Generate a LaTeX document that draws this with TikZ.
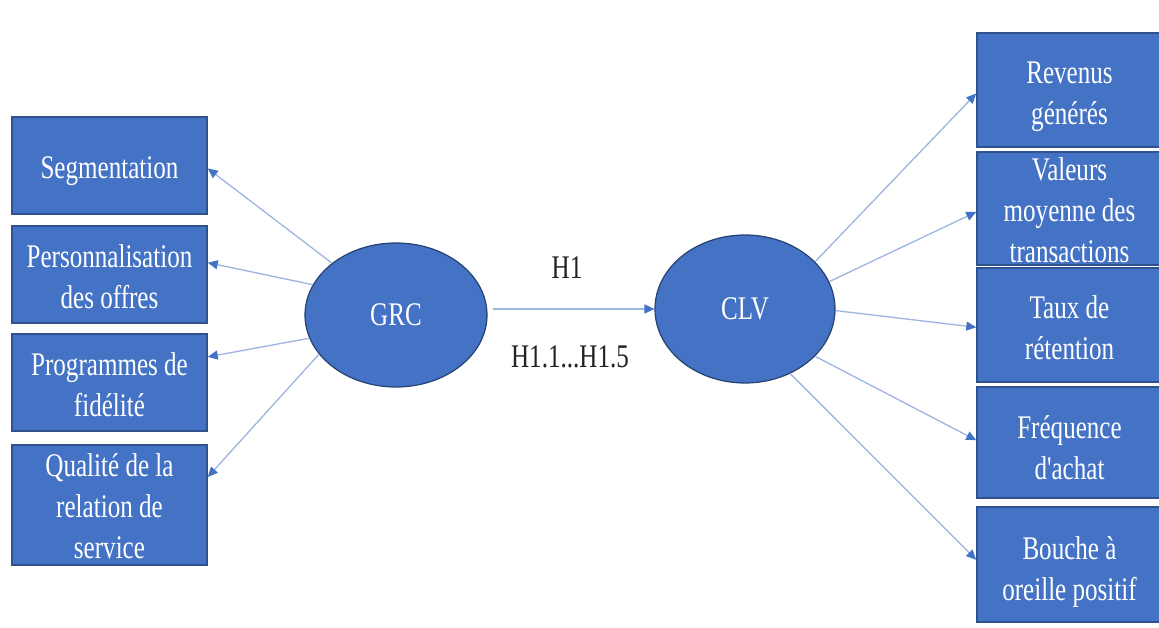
\documentclass[tikz,border=0pt]{standalone}
\usepackage{fontspec}
\setmainfont{Liberation Serif}[FakeStretch=0.76, Ligatures=TeXOff]
\usetikzlibrary{shapes.geometric,arrows.meta,calc}
\definecolor{boxblue}{HTML}{4472C4}
\definecolor{edgeblue}{HTML}{2F528F}
\definecolor{lineblue}{HTML}{9DB5E0}
\definecolor{txtdark}{HTML}{222222}
\tikzset{
  box/.style={rectangle, fill=boxblue, draw=edgeblue, line width=1.5pt, inner sep=0pt},
  boxtext/.style={text=white, align=center, inner sep=0pt, font=\fontsize{33}{41}\selectfont},
  oval/.style={ellipse, fill=boxblue, draw=edgeblue!80!black, line width=1.2pt, inner sep=0pt,
    text=white, font=\fontsize{33}{41}\selectfont},
  link/.style={draw=lineblue, line width=1.3pt, -{Triangle[length=10pt,width=9pt,color=boxblue]}},
  lab/.style={text=txtdark, font=\fontsize{33}{41}\selectfont, inner sep=0pt}
}
\begin{document}
\begin{tikzpicture}[x=1pt,y=-1pt]
\useasboundingbox[fill=white] (0,0) rectangle (1159,628);
% left boxes
\node[box, minimum width=195pt, minimum height=97pt] (seg) at (109.5,165.5) {};
\node[box, minimum width=195pt, minimum height=97pt] (pers) at (109.5,274.5) {};
\node[box, minimum width=195pt, minimum height=97pt] (prog) at (109.5,382.5) {};
\node[box, minimum width=195pt, minimum height=120pt] (qual) at (109.5,505) {};
\node[boxtext] (seg-t) at ([yshift=-6pt]seg.center) {Segmentation};
\node[boxtext] (pers-t) at ([yshift=-2.5pt]pers.center) {Personnalisation\\des offres};
\node[boxtext] (prog-t) at ([yshift=-2.5pt]prog.center) {Programmes de\\fidélité};
\node[boxtext] (qual-t) at ([yshift=-1pt]qual.center) {Qualité de la\\relation de\\service};
% right boxes
\node[box, minimum width=185pt, minimum height=114pt] (rev) at (1069.5,90) {};
\node[box, minimum width=185pt, minimum height=113pt] (val) at (1069.5,208.5) {};
\node[box, minimum width=185pt, minimum height=114pt] (taux) at (1069.5,325) {};
\node[box, minimum width=185pt, minimum height=111pt] (freq) at (1069.5,442.5) {};
\node[box, minimum width=185pt, minimum height=115pt] (bouche) at (1069.5,564.5) {};
\node[boxtext] (rev-t) at ([yshift=-7pt]rev.center) {Revenus\\générés};
\node[boxtext] (val-t) at ([yshift=-2pt]val.center) {Valeurs\\moyenne des\\transactions};
\node[boxtext] (taux-t) at ([yshift=-3pt]taux.center) {Taux de\\rétention};
\node[boxtext] (freq-t) at ([yshift=-5pt]freq.center) {Fréquence\\d'achat};
\node[boxtext] (bouche-t) at ([yshift=-8pt]bouche.center) {Bouche à\\oreille positif};
% ellipses
\node[oval, minimum width=182pt, minimum height=144pt] (grc) at (396,315) {GRC};
\node[oval, minimum width=180pt, minimum height=148pt] (clv) at (745,309) {CLV};
% labels
\node[lab] (h1) at (567,268) {H1};
\node[lab] (h15) at (570,357) {H1.1...H1.5};
% arrows
\draw[link] (grc.141) -- ($(seg.north east)!0.53!(seg.south east)$);
\draw[link] (grc.160) -- ($(pers.north east)!0.38!(pers.south east)$);
\draw[link] (grc.195) -- ($(prog.north east)!0.24!(prog.south east)$);
\draw[link] (grc.207) -- ($(qual.north east)!0.27!(qual.south east)$);
\draw[link, shorten <=5pt] (grc.east |- clv.west) -- (clv.west);
\draw[link] (clv.34) -- ($(rev.north west)!0.53!(rev.south west)$);
\draw[link] (clv.18) -- ($(val.north west)!0.53!(val.south west)$);
\draw[link] (clv.359) -- ($(taux.north west)!0.52!(taux.south west)$);
\draw[link] (clv.-34) -- ($(freq.north west)!0.48!(freq.south west)$);
\draw[link] (clv.-55) -- ($(bouche.north west)!0.46!(bouche.south west)$);
\end{tikzpicture}
\end{document}
